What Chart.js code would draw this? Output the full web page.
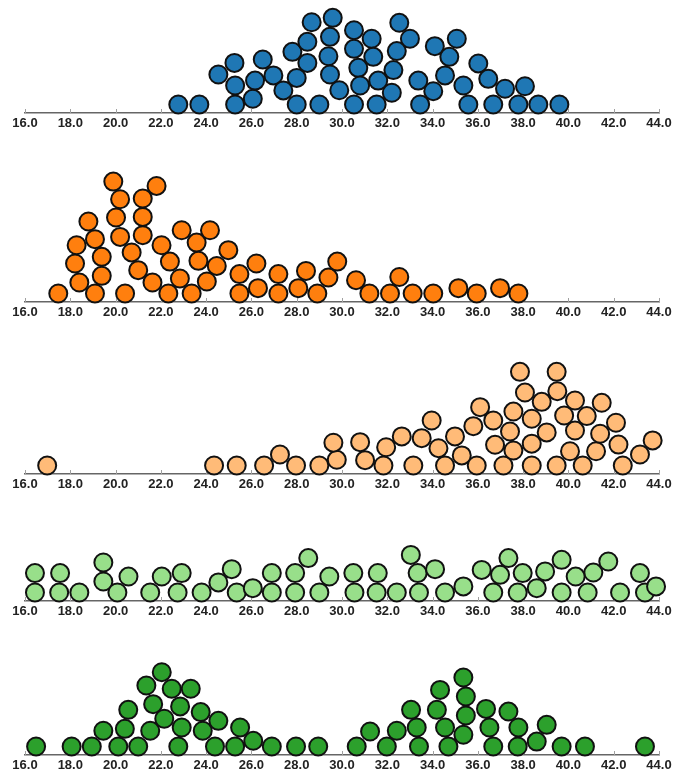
<!DOCTYPE html>
<html>
<head>
<meta charset="utf-8">
<script src="https://cdn.jsdelivr.net/npm/chart.js@4.4.1/dist/chart.umd.min.js"></script>
<style>
  html, body { margin: 0; padding: 0; background: #ffffff; width: 679px; height: 774px; overflow: hidden; }
  canvas { position: absolute; left: 0; display: block; }
</style>
</head>
<body>
<canvas id="swarm0"></canvas>
<canvas id="swarm1"></canvas>
<canvas id="swarm2"></canvas>
<canvas id="swarm3"></canvas>
<canvas id="swarm4"></canvas>
<script>
// Shared x axis ticks
const tickValues = [16, 18, 20, 22, 24, 26, 28, 30, 32, 34, 36, 38, 40, 42, 44];

// Swarm 1 (blue): value and stacking height (in circle diameters)
const blueX = [22.77, 23.70, 25.28, 26.06, 28.00, 29.00, 30.53, 24.54, 25.28, 26.16,
  25.25, 26.50, 26.97, 27.41, 28.00, 27.81, 28.47, 28.47, 28.66, 29.59,
  29.47, 29.40, 29.47, 29.88, 30.53, 30.53, 30.72, 30.80, 31.31, 31.38,
  31.60, 31.53, 32.53, 33.00, 32.42, 32.27, 32.20, 33.37, 33.45, 34.10,
  35.07, 34.74, 34.55, 34.03, 35.36, 35.58, 36.02, 36.46, 36.68, 37.20,
  37.79, 38.08, 38.67, 39.60];
const blueLevel = [0, 0, 0, 0.3, 0, 0, 0, 1.58, 1.0, 1.26,
  2.19, 2.37, 1.53, 0.74, 1.4, 2.77, 2.19, 3.3, 4.33, 4.56,
  3.56, 2.54, 1.58, 0.75, 3.91, 2.93, 1.93, 1.0, 3.46, 2.51,
  1.26, 0, 4.3, 3.46, 2.81, 1.81, 0.62, 1.26, 0, 3.07,
  3.46, 2.51, 1.53, 0.7, 1.0, 0, 2.16, 1.35, 0, 0.83,
  0, 0.96, 0, 0];

// Swarm 2 (orange)
const orangeX = [17.47, 18.40, 18.21, 18.28, 18.80, 19.09, 19.39, 19.39, 19.09, 20.42,
  19.90, 20.20, 20.02, 20.20, 20.71, 21.00, 21.63, 21.20, 21.20, 21.20,
  21.81, 22.03, 22.40, 22.33, 22.84, 22.92, 23.58, 23.66, 24.17, 24.47,
  24.03, 23.36, 24.98, 25.47, 25.47, 26.22, 26.29, 27.19, 27.19,
  28.07, 28.41, 28.91, 29.40, 29.79, 30.62, 31.21, 32.12, 32.53, 33.12,
  34.03, 35.14, 35.95, 36.98, 37.79];
const orangeLevel = [0, 0.58, 1.58, 2.54, 3.79, 2.86, 1.93, 0.93, 0, 0,
  5.89, 4.96, 4.0, 2.98, 2.16, 1.23, 0.58, 3.07, 4.03, 5.0,
  5.66, 2.54, 1.68, 0, 0.79, 3.33, 2.68, 1.72, 3.33, 1.45,
  0.63, 0, 2.28, 1.02, 0, 1.58, 0.28, 1.02, 0,
  0.28, 1.19, 0, 0.84, 1.68, 0.7, 0, 0, 0.87, 0,
  0, 0.28, 0, 0.28, 0];

// Swarm 3 (light orange)
const peachX = [16.98, 24.35, 25.35, 26.56, 27.26, 27.97, 29.00, 29.77, 29.62,
  30.80, 31.02, 31.83, 31.95,
  32.64, 33.15, 33.52, 33.96, 34.26, 34.55, 34.99, 35.29, 35.80, 36.10,
  35.95, 36.68, 36.76, 37.13, 37.42, 37.57, 37.57, 38.38, 38.38, 38.38,
  38.08, 37.86, 38.82, 39.04, 39.48, 39.48, 39.51, 39.81, 40.29, 40.29,
  40.07, 40.63, 40.81, 41.22, 41.40, 41.47, 42.10, 42.21, 42.40, 43.16,
  43.72];
const peachLevel = [0, 0, 0, 0, 0.58, 0, 0, 0.3, 1.2,
  1.23, 0.28, 0, 0.96,
  1.53, 0, 1.44, 2.37, 0.91, 0, 1.53, 0.53, 2.07, 3.07,
  0, 2.37, 1.09, 0, 1.79, 2.84, 0.79, 0, 1.15, 2.46,
  3.84, 4.93, 3.35, 1.74, 0, 4.93, 3.91, 2.63, 3.42, 1.84,
  0.75, 0, 2.6, 0.75, 1.67, 3.3, 2.25, 1.1, 0, 0.58,
  1.32];

// Swarm 4 (light green)
const mintX = [16.44, 16.44, 17.51, 17.55, 18.40, 19.46, 19.46, 20.08, 20.57, 21.53,
  22.04, 22.92, 22.74, 23.80, 24.54, 25.13, 25.35, 26.06, 26.90, 26.90,
  27.93, 27.93, 28.51, 29.00, 29.44,
  30.50, 30.55, 31.58, 31.53, 32.42, 33.04, 33.34, 33.40, 34.11, 34.55,
  35.36, 36.17, 36.68, 36.98, 37.35, 37.76, 37.98, 38.60, 38.97, 39.70,
  39.70, 40.32, 40.85, 41.10, 41.76, 42.28, 43.16, 43.38, 43.87];
const mintLevel = [0, 1.02, 0, 1.02, 0, 0.58, 1.58, 0, 0.84, 0,
  0.84, 1.02, 0, 0, 0.53, 1.23, 0, 0.23, 0, 1.02,
  0, 1.02, 1.81, 0, 0.84,
  1.02, 0, 1.02, 0, 0, 1.98, 1.02, 0, 1.23, 0,
  0.32, 1.19, 0, 0.93, 1.81, 0, 1.02, 0.23, 1.11, 1.72,
  0, 0.84, 0, 1.05, 1.63, 0, 1.02, 0, 0.32];

// Swarm 5 (green)
const greenX = [16.49, 18.06, 18.95, 19.46, 20.12, 20.41, 20.56, 21.00, 21.53, 21.36,
  21.66, 22.15, 22.04, 22.48, 22.85, 22.92, 22.77, 23.32, 23.76, 23.85,
  24.39, 24.54, 25.28, 25.50, 26.08, 26.90, 27.97, 28.95,
  30.65, 31.24, 31.98, 32.42, 33.05, 33.30, 33.40, 34.33, 34.19, 34.55,
  34.70, 35.36, 35.47, 35.47, 35.36, 36.36, 36.51, 36.68, 37.35, 37.79,
  37.76, 38.60, 39.04, 39.70, 40.73, 43.38];
const greenLevel = [0, 0, 0, 0.83, 0, 0.93, 1.93, 0, 0.83, 3.21,
  2.23, 1.46, 3.91, 3.04, 2.11, 1.0, 0, 3.04, 1.81, 0.83,
  0, 1.35, 0, 1.0, 0.3, 0, 0, 0,
  0, 0.79, 0, 0.83, 1.93, 1.0, 0, 2.98, 1.93, 1.0,
  0, 3.63, 2.63, 1.63, 0.62, 1.98, 1.0, 0, 1.84, 1.0,
  0, 0.26, 1.14, 0, 0, 0];

// Panel layout: axis baseline position and plot height in px
const DIAMETER = 19;       // one stacking level
const BASE_GAP = 8.5;      // centre of bottom row above the axis line
const AXIS_BAND = 22;      // height reserved for the tick labels

const panels = [
  { id: 'swarm0', xs: blueX,   levels: blueLevel,   fill: '#1f77b4', top: 0,   plotH: 113 },
  { id: 'swarm1', xs: orangeX, levels: orangeLevel, fill: '#ff7f0e', top: 167, plotH: 135 },
  { id: 'swarm2', xs: peachX,  levels: peachLevel,  fill: '#ffbb78', top: 354, plotH: 120 },
  { id: 'swarm3', xs: mintX,   levels: mintLevel,   fill: '#98df8a', top: 531, plotH: 70 },
  { id: 'swarm4', xs: greenX,  levels: greenLevel,  fill: '#2ca02c', top: 655, plotH: 100 }
];

// Short tick marks rising from the axis line
const innerTicks = {
  id: 'innerTicks',
  beforeDatasetsDraw(chart) {
    const sx = chart.scales.x;
    const ctx = chart.ctx;
    const y0 = chart.chartArea.bottom;
    ctx.save();
    ctx.strokeStyle = '#a0a0a0';
    ctx.lineWidth = 1;
    for (const v of tickValues) {
      const px = Math.round(sx.getPixelForValue(v)) + 0.5;
      ctx.beginPath();
      ctx.moveTo(px, y0);
      ctx.lineTo(px, y0 - 4);
      ctx.stroke();
    }
    ctx.restore();
  }
};

for (const p of panels) {
  const canvas = document.getElementById(p.id);
  canvas.width = 679;
  canvas.height = p.plotH + AXIS_BAND;
  canvas.style.top = p.top + 'px';

  const yMin = -BASE_GAP / DIAMETER;
  const yMax = yMin + p.plotH / DIAMETER;

  new Chart(canvas, {
    type: 'scatter',
    data: {
      datasets: [{
        data: p.xs.map((x, i) => ({ x: x, y: p.levels[i] })),
        backgroundColor: p.fill,
        borderColor: '#111111',
        pointRadius: 9,
        pointBorderWidth: 2,
        pointHoverRadius: 9,
        clip: false
      }]
    },
    options: {
      responsive: false,
      animation: false,
      events: [],
      layout: { autoPadding: false, padding: { left: 25, right: 20, top: 0, bottom: 0 } },
      plugins: { legend: { display: false }, tooltip: { enabled: false } },
      scales: {
        x: {
          type: 'linear',
          min: 16,
          max: 44,
          afterBuildTicks: (scale) => { scale.ticks = tickValues.map(v => ({ value: v })); },
          afterFit: (scale) => { scale.height = AXIS_BAND; },
          ticks: {
            callback: (v) => Number(v).toFixed(1),
            font: { family: 'Liberation Sans, Arial, sans-serif', size: 13, weight: 'bold' },
            color: '#222222',
            padding: 3,
            maxRotation: 0,
            autoSkip: false
          },
          grid: { display: false, drawTicks: false },
          border: { display: true, color: '#666666', width: 1.5 }
        },
        y: {
          display: false,
          min: yMin,
          max: yMax
        }
      }
    },
    plugins: [innerTicks]
  });
}
</script>
</body>
</html>
